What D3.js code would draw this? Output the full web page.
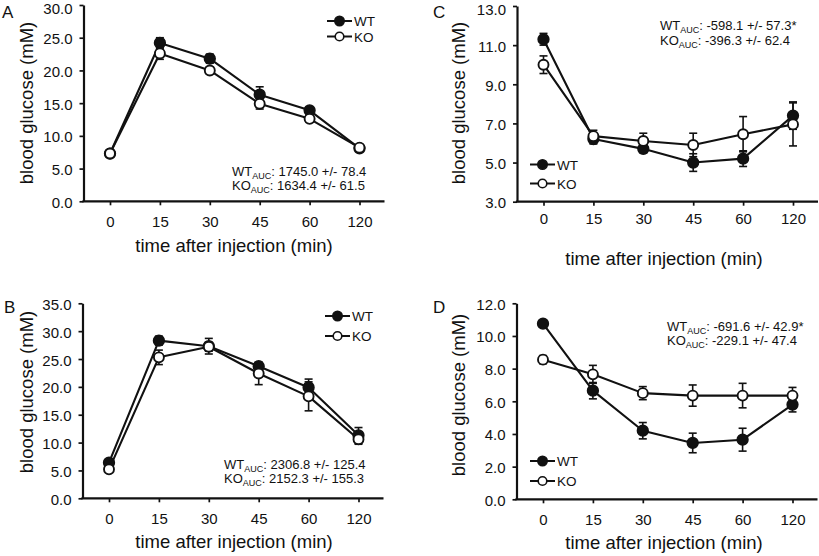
<!DOCTYPE html>
<html>
<head>
<meta charset="utf-8">
<script src="https://cdn.jsdelivr.net/npm/d3@7/dist/d3.min.js"></script>
<style>
  html, body { margin: 0; padding: 0; background: #fff; }
  svg { display: block; font-family: "Liberation Sans", Arial, Helvetica, sans-serif; }
</style>
</head>
<body>
<svg id="chart" width="819" height="556"></svg>
<script>
// ---------------- DATA ----------------
const categories = ["0", "15", "30", "45", "60", "120"];

// Panel A
const aTicks = [0, 5, 10, 15, 20, 25, 30];
const aWT    = [7.3, 24.2, 21.8, 16.3, 13.9, 8.1];
const aWTerr = [0.4, 0.8, 0.7, 1.2, 0.5, 0.4];
const aKO    = [7.3, 22.6, 20.0, 14.9, 12.6, 8.2];
const aKOerr = [0.4, 0.9, 0.5, 0.8, 0.5, 0.4];
const aAUC   = ["1745.0 +/- 78.4", "1634.4 +/- 61.5"];

// Panel B
const bTicks = [0, 5, 10, 15, 20, 25, 30, 35];
const bWT    = [6.4, 28.3, 27.3, 23.7, 19.9, 11.3];
const bWTerr = [0.5, 0.8, 1.4, 0.7, 1.5, 1.4];
const bKO    = [5.2, 25.3, 27.2, 22.4, 18.3, 10.6];
const bKOerr = [0.5, 1.3, 0.8, 2.0, 2.6, 0.9];
const bAUC   = ["2306.8 +/- 125.4", "2152.3 +/- 155.3"];

// Panel C
const cTicks = [3, 5, 7, 9, 11, 13];
const cWT    = [11.3, 6.2, 5.7, 5.0, 5.2, 7.4];
const cWTerr = [0.3, 0.25, 0.2, 0.45, 0.4, 0.7];
const cKO    = [10.0, 6.35, 6.1, 5.9, 6.45, 6.95];
const cKOerr = [0.45, 0.3, 0.4, 0.6, 0.9, 1.1];
const cAUC   = ["-598.1 +/- 57.3*", "-396.3 +/- 62.4"];

// Panel D
const dTicks = [0, 2, 4, 6, 8, 10, 12];
const dWT    = [10.75, 6.65, 4.2, 3.45, 3.65, 5.8];
const dWTerr = [0.2, 0.5, 0.5, 0.6, 0.7, 0.45];
const dKO    = [8.55, 7.65, 6.5, 6.35, 6.35, 6.35];
const dKOerr = [0.25, 0.55, 0.4, 0.65, 0.75, 0.5];
const dAUC   = ["-691.6 +/- 42.9*", "-229.1 +/- 47.4"];

const seriesNames = ["WT", "KO"];
const xTitle = "time after injection (min)";
const yTitle = "blood glucose (mM)";

// ---------------- LAYOUT ----------------
const panels = [
  { letter: "A", ticks: aTicks, wt: aWT, wtE: aWTerr, ko: aKO, koE: aKOerr, auc: aAUC,
    x0: 83.5, yTop: 5, yBot: 201.3, tickLabY: 25.5,
    letterPos: [2, 18], yLab: [33, 103], xLab: [234, 252],
    aucPos: [232, 176, 189.5], leg: { x: 327, y: 21, dy: 15.5 } },
  { letter: "B", ticks: bTicks, wt: bWT, wtE: bWTerr, ko: bKO, koE: bKOerr, auc: bAUC,
    x0: 82.5, yTop: 303.3, yBot: 498.3, tickLabY: 26,
    letterPos: [4, 313], yLab: [33, 392], xLab: [234, 548],
    aucPos: [224, 469, 483], leg: { x: 325, y: 316, dy: 20 } },
  { letter: "C", ticks: cTicks, wt: cWT, wtE: cWTerr, ko: cKO, koE: cKOerr, auc: cAUC,
    x0: 517, yTop: 6, yBot: 201.7, tickLabY: 22,
    letterPos: [433, 18], yLab: [465, 103], xLab: [664, 265],
    aucPos: [660, 29.5, 44.5], leg: { x: 530, y: 164.5, dy: 19 } },
  { letter: "D", ticks: dTicks, wt: dWT, wtE: dWTerr, ko: dKO, koE: dKOerr, auc: dAUC,
    x0: 516.5, yTop: 303.3, yBot: 499.3, tickLabY: 26,
    letterPos: [433, 313], yLab: [465, 395], xLab: [664, 549],
    aucPos: [667, 330.5, 345], leg: { x: 530, y: 461, dy: 20 } }
];

const svg = d3.select("#chart");
const ink = "#111";

function drawPanel(p) {
  const g = svg.append("g");
  const x = d3.scalePoint().domain(categories).range([p.x0 + 26.5, p.x0 + 276]);
  const y = d3.scaleLinear().domain([p.ticks[0], p.ticks[p.ticks.length - 1]]).range([p.yBot, p.yTop]);
  const xEnd = Math.min(p.x0 + 301, 818);

  // Y axis
  const ya = g.append("g").attr("transform", `translate(${p.x0},0)`)
    .call(d3.axisLeft(y).tickValues(p.ticks).tickFormat(d3.format(".1f"))
      .tickSize(4).tickSizeOuter(0).tickPadding(7));
  ya.select(".domain").attr("stroke", ink).attr("stroke-width", 2.2);
  ya.selectAll(".tick line").attr("stroke", ink).attr("stroke-width", 1.7);
  ya.selectAll(".tick text").attr("font-size", 15).attr("fill", ink)
    .attr("dy", (d, i, n) => (y(d) < 12 ? "0.55em" : "0.4em"))
    .attr("font-family", "Liberation Sans, Arial, sans-serif");

  // X axis
  const xa = g.append("g").attr("transform", `translate(0,${p.yBot})`)
    .call(d3.axisBottom(x).tickSize(4).tickSizeOuter(0));
  xa.select(".domain").remove();
  xa.selectAll(".tick line").attr("stroke", ink).attr("stroke-width", 1.7);
  xa.selectAll(".tick text").attr("font-size", 15).attr("fill", ink)
    .attr("y", p.tickLabY).attr("dy", 0)
    .attr("font-family", "Liberation Sans, Arial, sans-serif");
  g.append("line").attr("x1", p.x0 - 1.1).attr("x2", xEnd)
    .attr("y1", p.yBot).attr("y2", p.yBot)
    .attr("stroke", ink).attr("stroke-width", 2.2);

  // Titles
  g.append("text").attr("x", p.xLab[0]).attr("y", p.xLab[1])
    .attr("text-anchor", "middle").attr("font-size", 18.5).attr("fill", ink).text(xTitle);
  g.append("text").attr("transform", `translate(${p.yLab[0]},${p.yLab[1]}) rotate(-90)`)
    .attr("text-anchor", "middle").attr("font-size", 18.5).attr("fill", ink).text(yTitle);
  g.append("text").attr("x", p.letterPos[0]).attr("y", p.letterPos[1])
    .attr("font-size", 17).attr("fill", ink).text(p.letter);

  // Series lines
  const line = d3.line().x((d, i) => x(categories[i])).y(d => y(d));
  [p.wt, p.ko].forEach(vals => {
    g.append("path").attr("d", line(vals)).attr("fill", "none")
      .attr("stroke", ink).attr("stroke-width", 2.1).attr("stroke-linejoin", "round");
  });

  // Error bars
  function errBars(vals, errs) {
    const eg = g.append("g").attr("stroke", ink).attr("stroke-width", 1.6);
    vals.forEach((v, i) => {
      const cx = x(categories[i]);
      const lo = y(v - errs[i]), hi = y(v + errs[i]);
      eg.append("line").attr("x1", cx).attr("x2", cx).attr("y1", lo).attr("y2", hi);
      eg.append("line").attr("x1", cx - 4).attr("x2", cx + 4).attr("y1", lo).attr("y2", lo);
      eg.append("line").attr("x1", cx - 4).attr("x2", cx + 4).attr("y1", hi).attr("y2", hi);
    });
  }
  errBars(p.wt, p.wtE);
  errBars(p.ko, p.koE);

  // Markers
  g.append("g").selectAll("circle").data(p.wt).join("circle")
    .attr("cx", (d, i) => x(categories[i])).attr("cy", d => y(d)).attr("r", 5.4)
    .attr("fill", ink).attr("stroke", ink).attr("stroke-width", 1.5);
  g.append("g").selectAll("circle").data(p.ko).join("circle")
    .attr("cx", (d, i) => x(categories[i])).attr("cy", d => y(d)).attr("r", 5)
    .attr("fill", "#fff").attr("stroke", ink).attr("stroke-width", 1.9);

  // Legend
  seriesNames.forEach((name, k) => {
    const ly = p.leg.y + k * p.leg.dy;
    g.append("line").attr("x1", p.leg.x).attr("x2", p.leg.x + 25).attr("y1", ly).attr("y2", ly)
      .attr("stroke", ink).attr("stroke-width", 2);
    g.append("circle").attr("cx", p.leg.x + 12.5).attr("cy", ly).attr("r", k === 0 ? 4.7 : 4.3)
      .attr("fill", k === 0 ? ink : "#fff").attr("stroke", ink).attr("stroke-width", 1.6);
    g.append("text").attr("x", p.leg.x + 27).attr("y", ly + 5)
      .attr("font-size", 13.5).attr("fill", ink).text(name);
  });

  // AUC annotation
  seriesNames.forEach((name, k) => {
    const t = g.append("text").attr("x", p.aucPos[0]).attr("y", p.aucPos[1 + k])
      .attr("font-size", 13).attr("fill", ink);
    t.append("tspan").text(name);
    t.append("tspan").attr("font-size", 9).attr("dy", 3).text("AUC");
    t.append("tspan").attr("dy", -3).text(": " + p.auc[k]);
  });
}

panels.forEach(drawPanel);
</script>
</body>
</html>
